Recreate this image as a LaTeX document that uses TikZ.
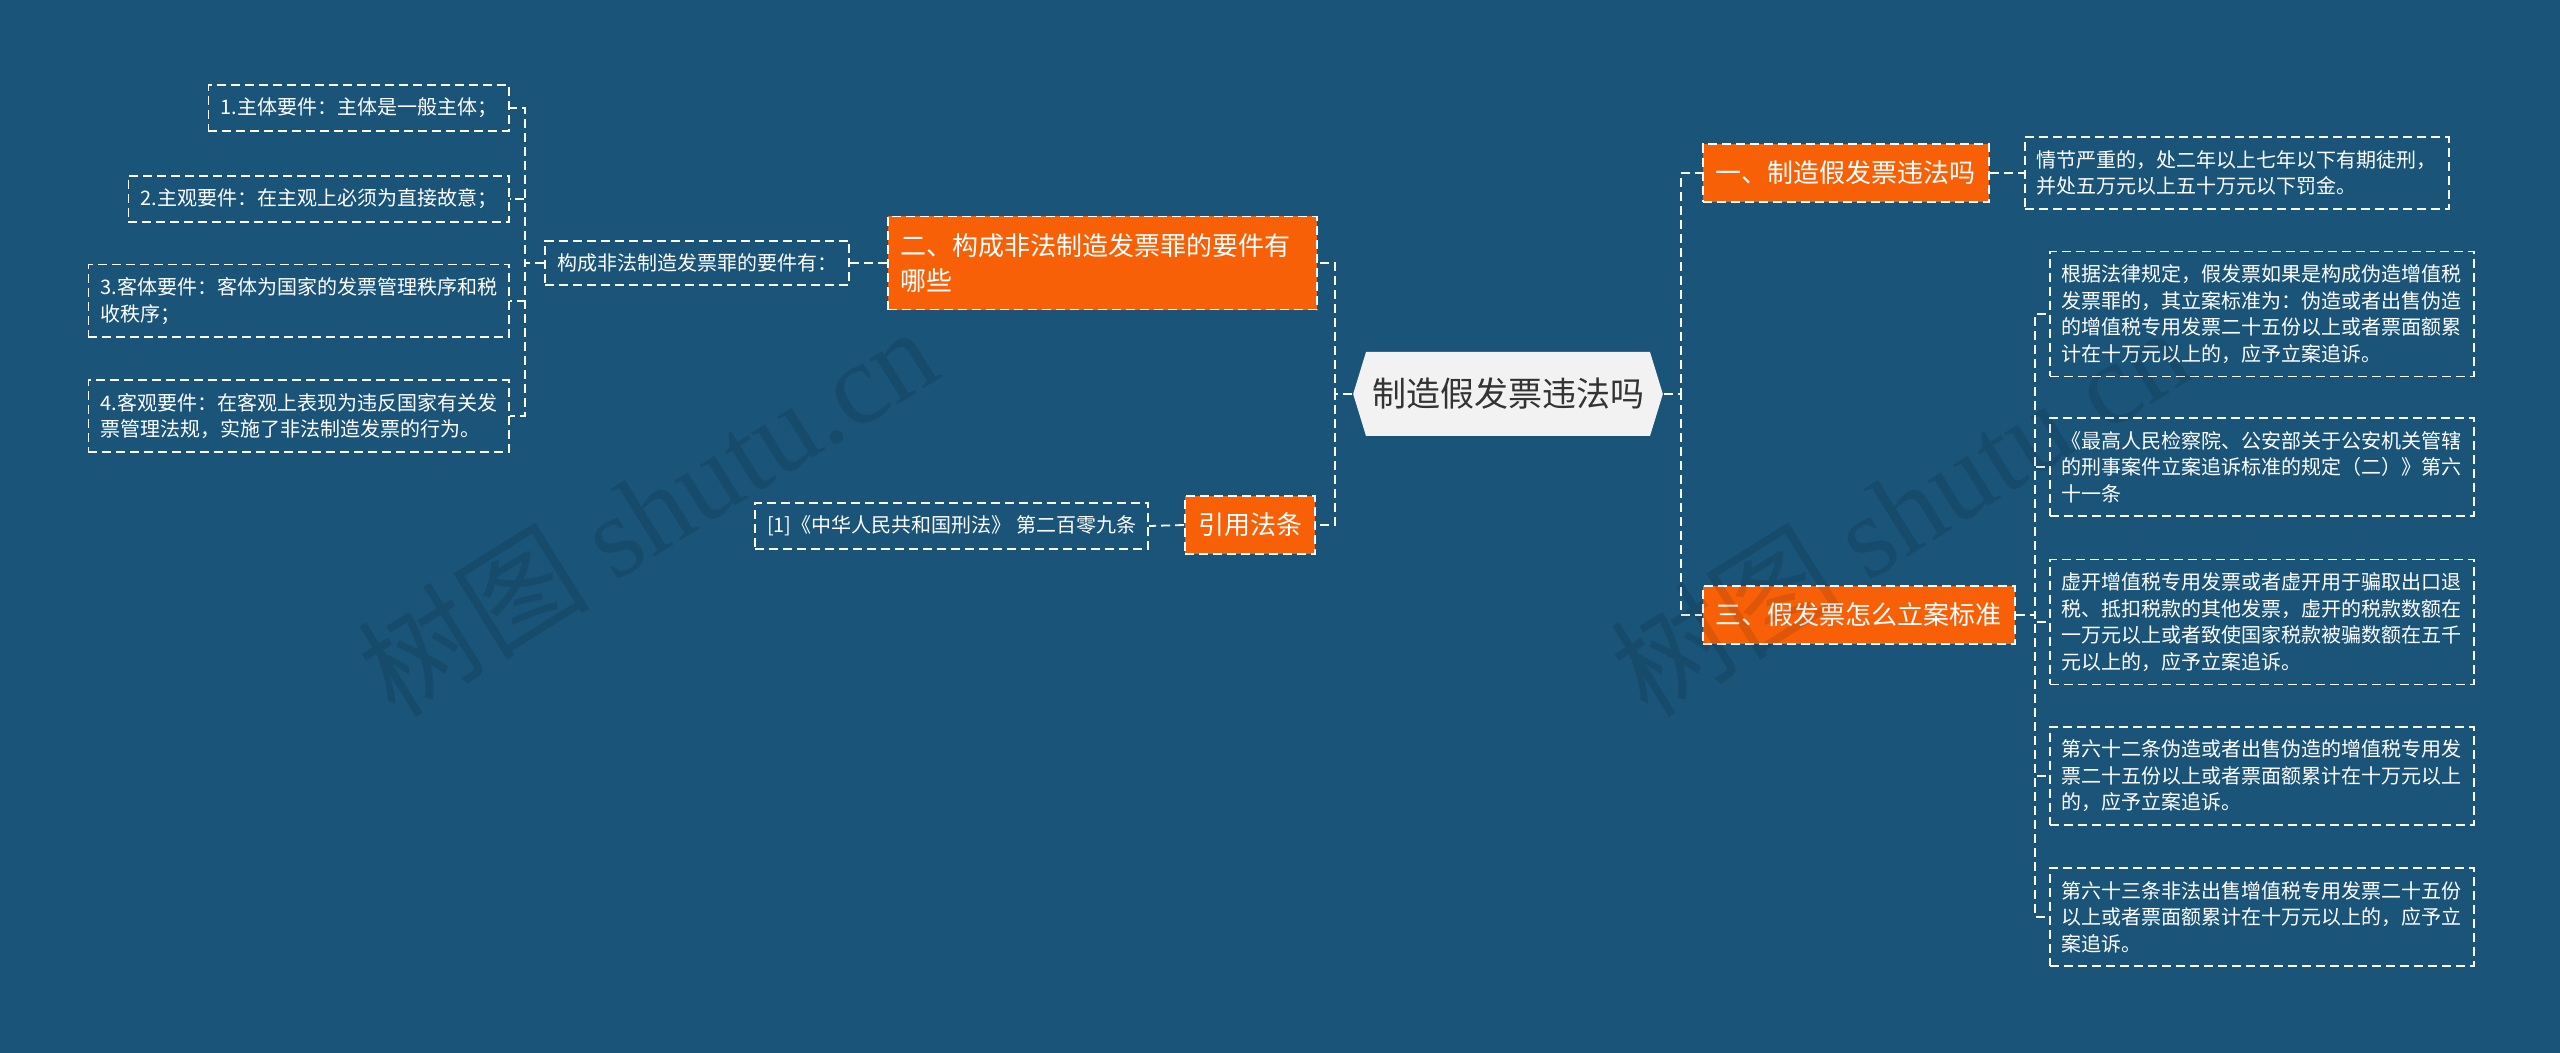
\documentclass[tikz,border=0pt]{standalone}
\usepackage{fontspec}
\setmainfont{Noto Sans CJK SC}
\newfontfamily\wmfont{Liberation Serif}
\usetikzlibrary{shapes.symbols}

\definecolor{bgblue}{RGB}{26,84,121}
\definecolor{mmorange}{RGB}{248,96,8}
\definecolor{hubgray}{RGB}{242,242,242}
\definecolor{hubtext}{RGB}{51,51,51}

\begin{document}
\begin{tikzpicture}[x=0.5pt, y=-0.5pt, line width=0.9pt,
    wire/.style={draw=white, dash pattern=on 4.5pt off 2.5pt},
    leaf/.style={wire, text=white, align=left, inner xsep=6pt, inner ysep=6.5pt, font=\fontsize{10}{13.3}\selectfont},
    topic/.style={wire, fill=mmorange, text=white, align=left, inner xsep=6.5pt, inner ysep=8.5pt, font=\fontsize{13}{17.5}\selectfont},
    hub/.style={signal, signal to=east and west, signal pointer angle=146, fill=hubgray, text=hubtext, inner xsep=3pt, minimum height=42pt, font=\fontsize{17}{20}\selectfont}]
    \fill[bgblue] (0,0) rectangle (2560,1053);

    \node[hub] (hub) at (1508,394) {制造假发票违法吗};

    \node[topic, anchor=west, text width=201.5pt] (t2) at (887,263) {二、构成非法制造发票罪的要件有\\哪些};
    \node[topic, anchor=east] (cite) at (1316,525) {引用法条};
    \node[topic, anchor=west] (t1) at (1702,173) {一、制造假发票违法吗};
    \node[topic, anchor=west] (t3) at (1702,615) {三、假发票怎么立案标准};

    \node[leaf, anchor=east] (ask) at (850,263) {构成非法制造发票罪的要件有：};
    \node[leaf, anchor=east] (l1) at (510,108) {1.主体要件：主体是一般主体；};
    \node[leaf, anchor=east] (l2) at (510,199) {2.主观要件：在主观上必须为直接故意；};
    \node[leaf, anchor=east] (l3) at (510,301) {3.客体要件：客体为国家的发票管理秩序和税\\收秩序；};
    \node[leaf, anchor=east] (l4) at (510,416) {4.客观要件：在客观上表现为违反国家有关发\\票管理法规，实施了非法制造发票的行为。};
    \node[leaf, anchor=east] (law) at (1149,526) {[1]《中华人民共和国刑法》 第二百零九条};

    \node[leaf, anchor=west] (pen) at (2024,173) {情节严重的，处二年以上七年以下有期徒刑，\\并处五万元以上五十万元以下罚金。};
    \node[leaf, anchor=west] (c1) at (2049,314) {根据法律规定，假发票如果是构成伪造增值税\\发票罪的，其立案标准为：伪造或者出售伪造\\的增值税专用发票二十五份以上或者票面额累\\计在十万元以上的，应予立案追诉。};
    \node[leaf, anchor=west] (c2) at (2049,467) {《最高人民检察院、公安部关于公安机关管辖\\的刑事案件立案追诉标准的规定（二）》第六\\十一条};
    \node[leaf, anchor=west] (c3) at (2049,622) {虚开增值税专用发票或者虚开用于骗取出口退\\税、抵扣税款的其他发票，虚开的税款数额在\\一万元以上或者致使国家税款被骗数额在五千\\元以上的，应予立案追诉。};
    \node[leaf, anchor=west] (c4) at (2049,776) {第六十二条伪造或者出售伪造的增值税专用发\\票二十五份以上或者票面额累计在十万元以上\\的，应予立案追诉。};
    \node[leaf, anchor=west] (c5) at (2049,917) {第六十三条非法出售增值税专用发票二十五份\\以上或者票面额累计在十万元以上的，应予立\\案追诉。};

    \draw[wire] (hub.west) -- ++(-17,0) |- (t2.east);
    \draw[wire] (hub.west) -- ++(-17,0) |- (cite.east);
    \draw[wire] (hub.east) -- ++(17,0) |- (t1.west);
    \draw[wire] (hub.east) -- ++(17,0) |- (t3.west);
    \draw[wire] (t2.west) -- (ask.east);
    \draw[wire] (cite.west) -- (law.east);
    \draw[wire] (t1.east) -- (pen.west);
    \foreach \n in {l1,l2,l3,l4}
      \draw[wire] (ask.west) -- ++(-19,0) |- (\n.east);
    \foreach \n in {c1,c2,c3,c4,c5}
      \draw[wire] (t3.east) -- ++(19,0) |- (\n.west);

    \foreach \x in {647,1900}
      \node[rotate=32, text=black, text opacity=0.1, font=\fontsize{58}{58}\selectfont] at (\x,510) {树图 {\wmfont shutu.cn}};
  \end{tikzpicture}
\end{document}
